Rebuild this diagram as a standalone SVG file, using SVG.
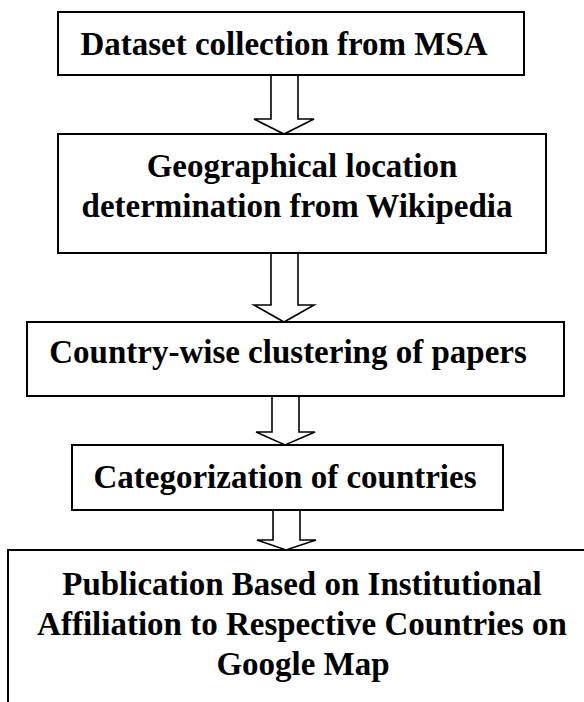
<svg xmlns="http://www.w3.org/2000/svg" width="584" height="702" viewBox="0 0 584 702">
<style>
.box{fill:#fff;stroke:#000;stroke-width:2}
.arr{fill:#fff;stroke:#000;stroke-width:1.6;stroke-linejoin:miter}
.t{font-family:'Liberation Serif','Times New Roman',Times,'DejaVu Serif',serif;font-weight:700;font-size:33px;fill:#000;text-anchor:middle}
</style>
<rect width="584" height="702" fill="#fff"/>
<g id="connectors">
<polygon class="arr" points="271,75 298,75 298,119 314,119 284,134 254,119 271,119"/>
<polygon class="arr" points="271,253 298,253 298,305 314,305 284,322 254,305 271,305"/>
<polygon class="arr" points="272,396 299,396 299,432 315,432 285,445 256,432 272,432"/>
<polygon class="arr" points="273,510 300,510 300,540 316,540 286,550 257,540 273,540"/>
</g>
<g id="n1">
<rect class="box" x="58" y="12" width="466" height="63"/>
<text class="t" x="284" y="55">Dataset collection from MSA</text>
</g>
<g id="n2">
<rect class="box" x="58" y="134" width="488" height="119"/>
<text class="t" x="302" y="177">Geographical location</text>
<text class="t" x="297" y="217">determination from Wikipedia</text>
</g>
<g id="n3">
<rect class="box" x="27" y="322" width="537" height="74"/>
<text class="t" x="288" y="363">Country-wise clustering of papers</text>
</g>
<g id="n4">
<rect class="box" x="72" y="445" width="431" height="65"/>
<text class="t" x="285" y="488">Categorization of countries</text>
</g>
<g id="n5">
<rect class="box" x="8" y="550" width="600" height="170"/>
<text class="t" x="302" y="595">Publication Based on Institutional</text>
<text class="t" x="302" y="635">Affiliation to Respective Countries on</text>
<text class="t" x="303" y="675">Google Map</text>
</g>
</svg>
